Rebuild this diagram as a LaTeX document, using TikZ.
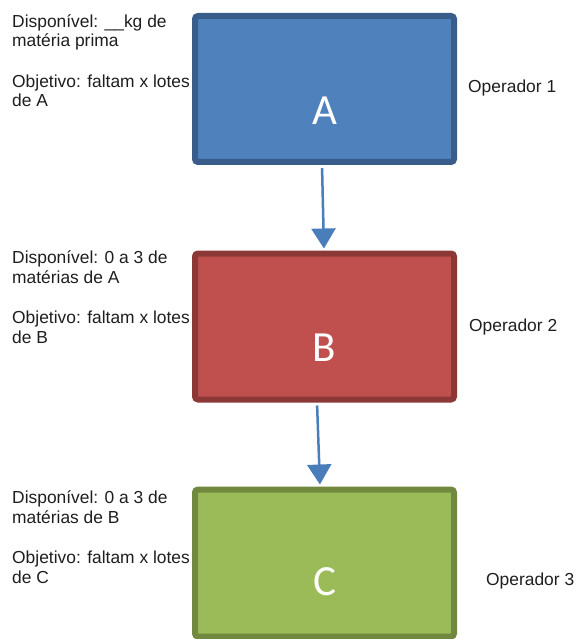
\documentclass[tikz,border=0pt]{standalone}
\usepackage{fontspec}
\setmainfont{Liberation Sans}
\newfontfamily\boxfont{Carlito}
\usetikzlibrary{arrows.meta}

\definecolor{blueFill}{HTML}{4F81BD}
\definecolor{blueEdge}{HTML}{385D8A}
\definecolor{redFill}{HTML}{C0504D}
\definecolor{redEdge}{HTML}{8C3836}
\definecolor{greenFill}{HTML}{9BBB59}
\definecolor{greenEdge}{HTML}{71893F}
\definecolor{flowArrow}{HTML}{4A7EBB}
\definecolor{noteText}{HTML}{1E1E1E}

\begin{document}
\begin{tikzpicture}[x=1pt,y=-1pt,
  stage/.style={draw, line width=6pt, rounded corners=3pt, inner sep=0pt,
    minimum width=259pt, minimum height=146pt},
  letter/.style={text=white, font=\boxfont\fontsize{43}{43}\selectfont, inner sep=0pt},
  note/.style={anchor=base west, align=left, inner sep=0pt, text=noteText,
    font=\fontsize{17.4}{19.5}\selectfont},
  flow/.style={draw=flowArrow, line width=2.5pt,
    -{Triangle[width=24pt,length=20pt]}, shorten <=3pt, shorten >=2pt}
]
\useasboundingbox (0,0) rectangle (575,639);

% production stages
\node[stage, fill=blueFill, draw=blueEdge] (A) at (324.5,89) {};
\node[stage, fill=redFill, draw=redEdge] (B) at (324.5,326.5) {};
\node[stage, fill=greenFill, draw=greenEdge, minimum height=147pt] (C) at (324.5,563) {};

\node[letter] (lA) at ([yshift=-22pt]A.center) {A};
\node[letter] (lB) at ([yshift=-21pt]B.center) {B};
\node[letter] (lC) at ([yshift=-19pt]C.center) {C};

% material flow between stages
\draw[flow] ([xshift=-2.5pt]A.south) -- ([xshift=-0.5pt]B.north);
\draw[flow] ([xshift=-7.5pt]B.south) -- ([xshift=-4.5pt]C.north);

% availability and goal notes (placed by the baseline of their last line)
\node[note] (dispA) at (12,47) {Disponível: \_\_kg de\\matéria prima};
\node[note] (objA) at (12,107) {Objetivo: faltam x lotes\\de A};
\node[note] (dispB) at (12,283) {Disponível: 0 a 3 de\\matérias de A};
\node[note] (objB) at (12,343) {Objetivo: faltam x lotes\\de B};
\node[note] (dispC) at (12,523) {Disponível: 0 a 3 de\\matérias de B};
\node[note] (objC) at (12,583) {Objetivo: faltam x lotes\\de C};

% operators
\node[note] (op1) at (468,93) {Operador 1};
\node[note] (op2) at (469,331) {Operador 2};
\node[note] (op3) at (486,585) {Operador 3};
\end{tikzpicture}
\end{document}
